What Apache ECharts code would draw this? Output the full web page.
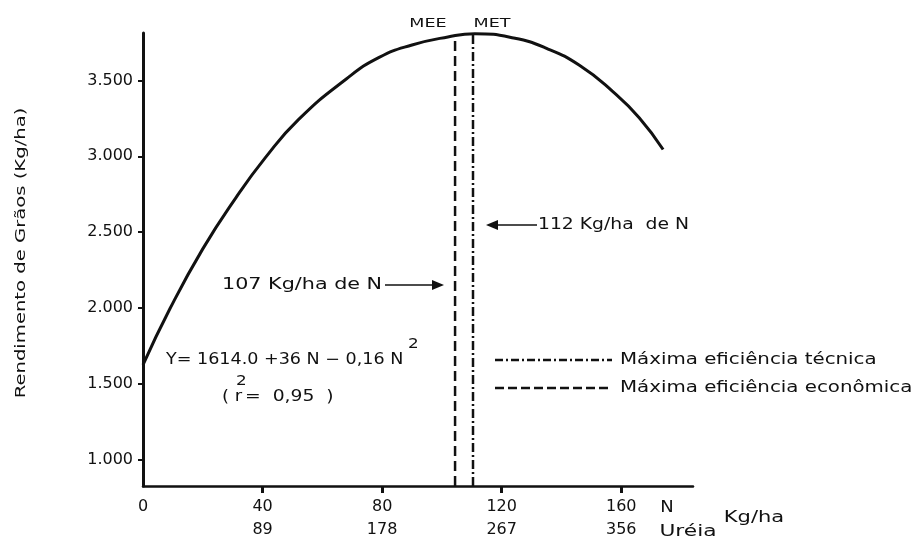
<!DOCTYPE html>
<html>
<head>
<meta charset="utf-8">
<script src="https://cdn.jsdelivr.net/npm/echarts@6/dist/echarts.min.js"></script>
<style>
html,body{margin:0;padding:0;background:#fff;}
#c{width:918px;height:541px;}
</style>
</head>
<body>
<div id="c"></div>
<script>
// Data
const nValues = [0, 9, 20, 31, 41, 52, 68, 79, 90, 102, 111, 124, 135, 146, 157, 166, 174];
const yieldValues = [1625, 1995, 2390, 2725, 2993, 3242, 3510, 3652, 3734, 3787, 3808, 3780, 3712, 3600, 3430, 3255, 3045];
const nTicks = [0, 40, 80, 120, 160];
const ureaLabels = ['', '89', '178', '267', '356'];
const yTicks = [1000, 1500, 2000, 2500, 3000, 3500];
const meeN = 104.4, meeTop = 3790;
const metN = 110.4, metTop = 3808;
const yMin = 827, yMax = 3813, xMin = 0, xMax = 184;

const FONT = '"DejaVu Sans", sans-serif';
const chart = echarts.init(document.getElementById('c'), null, {renderer: 'canvas'});

// text helper: x,y anchor; sx = horizontal stretch (wide lettering of the original)
function txt(text, x, y, size, align, sx, rot) {
  return {
    type: 'text', silent: true, x: x, y: y, scaleX: sx || 1, scaleY: 1, rotation: rot || 0,
    style: {text: text, x: 0, y: 0, fill: '#111', font: size + 'px ' + FONT,
            textAlign: align || 'left', textVerticalAlign: 'middle'}
  };
}

const curve = nValues.map((n, i) => [n, yieldValues[i]]);

const option = {
  animation: false,
  backgroundColor: '#fff',
  grid: {left: 143, right: 225, top: 33, bottom: 53},
  xAxis: {
    type: 'value', min: xMin, max: xMax,
    axisLine: {show: true, onZero: false, lineStyle: {color: '#111', width: 2.5}},
    axisTick: {show: true, inside: false, length: 7, lineStyle: {color: '#111', width: 3}, customValues: nTicks.slice(1)},
    axisLabel: {
      color: '#111', fontFamily: FONT, fontSize: 16, lineHeight: 23, margin: 9,
      customValues: nTicks,
      formatter: function (v) {
        const i = nTicks.indexOf(v);
        return String(v) + '\n' + (ureaLabels[i] || ' ');
      }
    },
    splitLine: {show: false}
  },
  yAxis: {
    type: 'value', min: yMin, max: yMax,
    axisLine: {show: true, onZero: false, lineStyle: {color: '#111', width: 3}},
    axisTick: {show: true, inside: false, length: 5, lineStyle: {color: '#111', width: 2}, customValues: yTicks},
    axisLabel: {
      color: '#111', fontFamily: FONT, fontSize: 16, margin: 10,
      customValues: yTicks,
      formatter: function (v) { return (v / 1000).toFixed(3); }
    },
    splitLine: {show: false}
  },
  series: [
    {
      type: 'line', data: curve, smooth: 0.5, showSymbol: false,
      lineStyle: {color: '#111', width: 3}
    },
    {
      type: 'line', data: [[meeN, yMin], [meeN, meeTop]], showSymbol: false,
      lineStyle: {color: '#111', width: 2.5, type: [10, 5]}
    },
    {
      type: 'line', data: [[metN, yMin], [metN, metTop]], showSymbol: false,
      lineStyle: {color: '#111', width: 2.5, type: [9, 3, 2, 3]}
    }
  ],
  graphic: [
    // y axis title (rotated, stretched along the text)
    txt('Rendimento de Grãos (Kg/ha)', 21, 253, 14, 'center', 1.4, Math.PI / 2),
    txt('MEE', 428, 24, 13, 'center', 1.35),
    txt('MET', 492, 24, 13, 'center', 1.35),
    // 112 arrow
    {type: 'line', silent: true, shape: {x1: 495, y1: 225, x2: 537, y2: 225}, style: {stroke: '#111', lineWidth: 1.5}},
    {type: 'polygon', silent: true, shape: {points: [[486, 225], [498, 220], [498, 230]]}, style: {fill: '#111'}},
    txt('112 Kg/ha  de N', 538, 225, 15, 'left', 1.25),
    // 107 arrow
    txt('107 Kg/ha de N', 222, 285, 15, 'left', 1.38),
    {type: 'line', silent: true, shape: {x1: 385, y1: 285, x2: 434, y2: 285}, style: {stroke: '#111', lineWidth: 1.5}},
    {type: 'polygon', silent: true, shape: {points: [[444, 285], [432, 280], [432, 290]]}, style: {fill: '#111'}},
    // equation
    txt('Y= 1614.0 +36 N − 0,16 N', 166, 360, 15, 'left', 1.17),
    txt('2', 408, 344, 14, 'left', 1.2),
    txt('( r', 222, 397, 15, 'left', 1.2),
    txt('2', 236, 381, 14, 'left', 1.2),
    txt('=  0,95  )', 245, 397, 15, 'left', 1.25),
    // legend
    {type: 'line', silent: true, shape: {x1: 495, y1: 360, x2: 612, y2: 360}, style: {stroke: '#111', lineWidth: 2.5, lineDash: [8, 3, 2, 3]}},
    txt('Máxima eficiência técnica', 620, 360, 15, 'left', 1.32),
    {type: 'line', silent: true, shape: {x1: 495, y1: 388, x2: 612, y2: 388}, style: {stroke: '#111', lineWidth: 2.5, lineDash: [9, 4]}},
    txt('Máxima eficiência econômica', 620, 388, 15, 'left', 1.32),
    // x axis extra labels
    txt('N', 667, 508, 15, 'center', 1.2),
    txt('Uréia', 688, 532, 15, 'center', 1.45),
    txt('Kg/ha', 754, 518, 15, 'center', 1.4)
  ]
};
chart.setOption(option);
</script>
</body>
</html>
